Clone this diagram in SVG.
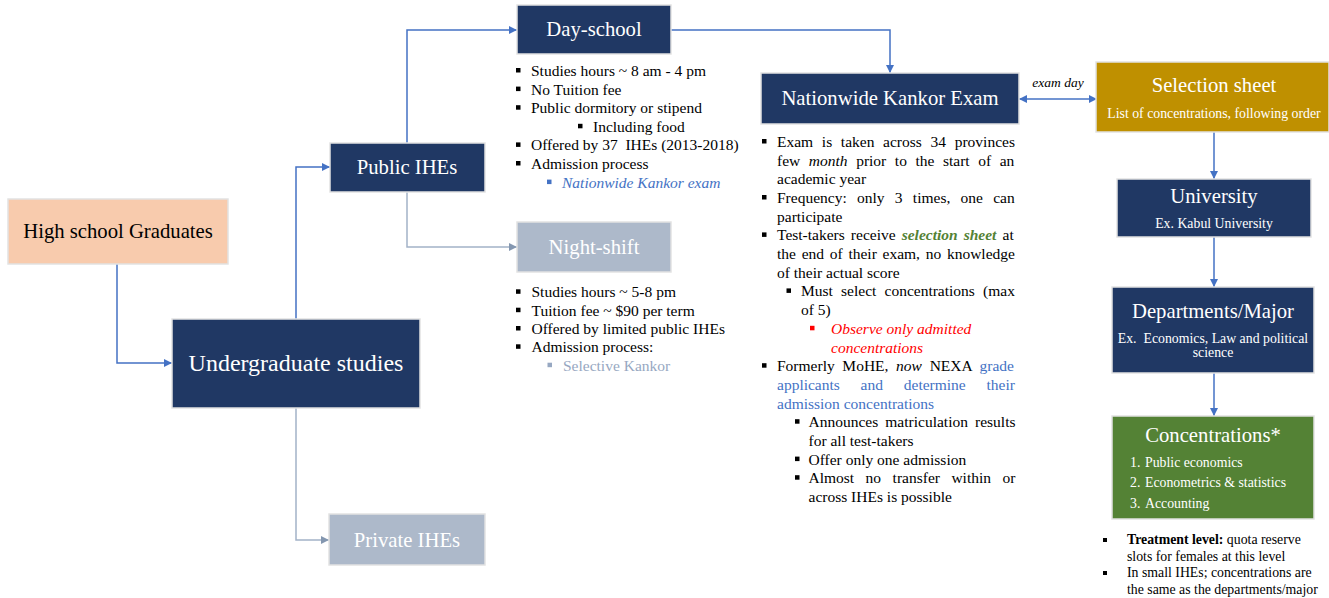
<svg xmlns="http://www.w3.org/2000/svg" width="1329" height="598" viewBox="0 0 1329 598">
<style>
text{font-family:"Liberation Serif","Times New Roman",serif;}
.box{stroke:#e2e2e2;stroke-width:1.5;}
.navy{fill:#203864;}
.grey{fill:#adb9ca;}
.t{fill:#ffffff;font-size:20.7px;text-anchor:middle;}
.sub{fill:#ffffff;font-size:13.8px;text-anchor:middle;}
.b{font-size:15.5px;fill:#000000;}
.n{font-size:13.8px;fill:#000000;}
.blt{fill:#000000;}
.c{fill:none;stroke:#4472c4;stroke-width:1.5;}
.cg{fill:none;stroke:#a3b2c8;stroke-width:1.5;}
.blue{fill:#4472c4;}
.lg{fill:#97a8c2;}
.red{fill:#ff0000;}
.it{font-style:italic;}
</style>
<defs>
<marker id="ab" viewBox="0 0 10 10" refX="10" refY="5" markerWidth="10" markerHeight="8" markerUnits="userSpaceOnUse" orient="auto-start-reverse"><path d="M0,0 L10,5 L0,10 z" fill="#4472c4"/></marker>
<marker id="ag" viewBox="0 0 10 10" refX="10" refY="5" markerWidth="10" markerHeight="8" markerUnits="userSpaceOnUse" orient="auto"><path d="M0,0 L10,5 L0,10 z" fill="#8497b0"/></marker>
</defs>
<rect width="1329" height="598" fill="#ffffff"/>

<g id="connectors">
<path class="c" d="M117,264 V363 H172" marker-end="url(#ab)"/>
<path class="c" d="M296,319 V167 H330" marker-end="url(#ab)"/>
<path class="cg" d="M296,408 V540 H329" marker-end="url(#ag)"/>
<path class="c" d="M407,143 V30 H517" marker-end="url(#ab)"/>
<path class="cg" d="M407,192 V247 H517" marker-end="url(#ag)"/>
<path class="c" d="M671,30 H890 V73" marker-end="url(#ab)"/>
<path class="c" d="M1019,99 H1097" marker-start="url(#ab)" marker-end="url(#ab)"/>
<text x="1058" y="87" class="it" font-size="13.5" text-anchor="middle" fill="#000">exam day</text>
<path class="c" d="M1214,132 V179" marker-end="url(#ab)"/>
<path class="c" d="M1214,237 V287" marker-end="url(#ab)"/>
<path class="c" d="M1214,373 V416" marker-end="url(#ab)"/>
</g>

<g id="high-school">
<rect class="box" x="8" y="199" width="220" height="65" fill="#f8cbad"/>
<text x="118" y="238" font-size="20.7" text-anchor="middle" fill="#000">High school Graduates</text>
</g>

<g id="undergraduate">
<rect class="box navy" x="172" y="319" width="248" height="89"/>
<text class="t" x="296" y="371" font-size="24" style="font-size:24px">Undergraduate studies</text>
</g>

<g id="public-ihes">
<rect class="box navy" x="330" y="143" width="155" height="49"/>
<text class="t" x="407" y="174">Public IHEs</text>
</g>

<g id="private-ihes">
<rect class="box grey" x="329" y="514" width="156" height="51"/>
<text class="t" x="407" y="547">Private IHEs</text>
</g>

<g id="day-school">
<rect class="box navy" x="517" y="5" width="154" height="49"/>
<text class="t" x="594" y="36">Day-school</text>
<rect class="blt" x="516" y="68" width="4.5" height="4.5"/>
<text class="b" x="531" y="76">Studies hours ~ 8 am - 4 pm</text>
<rect class="blt" x="516" y="86.6" width="4.5" height="4.5"/>
<text class="b" x="531" y="94.6">No Tuition fee</text>
<rect class="blt" x="516" y="105.2" width="4.5" height="4.5"/>
<text class="b" x="531" y="113.2">Public dormitory or stipend</text>
<rect class="blt" x="578" y="123.8" width="4.5" height="4.5"/>
<text class="b" x="593" y="131.8">Including food</text>
<rect class="blt" x="516" y="142.4" width="4.5" height="4.5"/>
<text class="b" x="531" y="150.4" xml:space="preserve">Offered by 37  IHEs (2013-2018)</text>
<rect class="blt" x="516" y="161" width="4.5" height="4.5"/>
<text class="b" x="531" y="169">Admission process</text>
<rect class="blue" x="547" y="179.6" width="4.5" height="4.5"/>
<text class="b it" x="562" y="187.6" style="fill:#4472c4">Nationwide Kankor exam</text>
</g>

<g id="night-shift">
<rect class="box grey" x="517" y="222" width="154" height="50"/>
<text class="t" x="594" y="254">Night-shift</text>
<rect class="blt" x="516" y="289.3" width="4.5" height="4.5"/>
<text class="b" x="531.5" y="297.3">Studies hours ~ 5-8 pm</text>
<rect class="blt" x="516" y="307.7" width="4.5" height="4.5"/>
<text class="b" x="531.5" y="315.7">Tuition fee ~ $90 per term</text>
<rect class="blt" x="516" y="326" width="4.5" height="4.5"/>
<text class="b" x="531.5" y="334">Offered by limited public IHEs</text>
<rect class="blt" x="516" y="344.3" width="4.5" height="4.5"/>
<text class="b" x="531.5" y="352.3">Admission process:</text>
<rect class="lg" x="547.5" y="362.7" width="4.5" height="4.5"/>
<text class="b" x="563" y="370.7" style="fill:#97a8c2">Selective Kankor</text>
</g>

<g id="kankor-exam">
<rect class="box navy" x="761" y="73" width="258" height="51"/>
<text class="t" x="890" y="105">Nationwide Kankor Exam</text>
<rect class="blt" x="762" y="139" width="4.5" height="4.5"/>
<text class="b" x="777" y="147" word-spacing="4.8">Exam is taken across 34 provinces</text>
<text class="b" x="777" y="165.7" word-spacing="4.7">few <tspan class="it">month</tspan> prior to the start of an</text>
<text class="b" x="777" y="184.4">academic year</text>
<rect class="blt" x="762" y="195" width="4.5" height="4.5"/>
<text class="b" x="777" y="203" word-spacing="6.4">Frequency: only 3 times, one can</text>
<text class="b" x="777" y="221.7">participate</text>
<rect class="blt" x="762" y="232.4" width="4.5" height="4.5"/>
<text class="b" x="777" y="240.4" word-spacing="2.2">Test-takers receive <tspan class="it" font-weight="bold" fill="#548235">selection sheet</tspan> at</text>
<text class="b" x="777" y="259.1" word-spacing="1.85">the end of their exam, no knowledge</text>
<text class="b" x="777" y="277.8">of their actual score</text>
<rect class="blt" x="786.5" y="288.4" width="4.5" height="4.5"/>
<text class="b" x="801" y="296.4" word-spacing="4.3">Must select concentrations (max</text>
<text class="b" x="801" y="315.1">of 5)</text>
<rect class="red" x="810" y="325.8" width="4.5" height="4.5"/>
<text class="b it" x="831" y="333.8" style="fill:#ff0000">Observe only admitted</text>
<text class="b it" x="831" y="352.5" style="fill:#ff0000">concentrations</text>
<rect class="blt" x="762" y="363.2" width="4.5" height="4.5"/>
<text class="b" x="777" y="371.2" word-spacing="3.8">Formerly MoHE, <tspan class="it">now</tspan> NEXA <tspan fill="#4472c4">grade</tspan></text>
<text class="b" x="777" y="389.8" word-spacing="16.9" style="fill:#4472c4">applicants and determine their</text>
<text class="b" x="777" y="408.5" style="fill:#4472c4">admission concentrations</text>
<rect class="blt" x="795" y="419.2" width="4.5" height="4.5"/>
<text class="b" x="808.5" y="427.2" word-spacing="3.2">Announces matriculation results</text>
<text class="b" x="808.5" y="445.9">for all test-takers</text>
<rect class="blt" x="795" y="456.6" width="4.5" height="4.5"/>
<text class="b" x="808.5" y="464.6">Offer only one admission</text>
<rect class="blt" x="795" y="475.2" width="4.5" height="4.5"/>
<text class="b" x="808.5" y="483.2" word-spacing="7.6">Almost no transfer within or</text>
<text class="b" x="808.5" y="501.9">across IHEs is possible</text>
</g>

<g id="selection-sheet">
<rect class="box" x="1096" y="62" width="233" height="70" fill="#bf9000"/>
<text class="t" x="1214" y="92">Selection sheet</text>
<text class="sub" x="1214" y="118">List of concentrations, following order</text>
</g>

<g id="university">
<rect class="box navy" x="1117" y="179" width="194" height="58"/>
<text class="t" x="1214" y="203">University</text>
<text class="sub" x="1214" y="228">Ex. Kabul University</text>
</g>

<g id="departments">
<rect class="box navy" x="1112" y="287" width="202" height="86"/>
<text class="t" x="1213" y="318">Departments/Major</text>
<text class="sub" x="1213" y="343" xml:space="preserve">Ex.  Economics, Law and political</text>
<text class="sub" x="1213" y="357">science</text>
</g>

<g id="concentrations">
<rect class="box" x="1112" y="416" width="202" height="103" fill="#548235"/>
<text class="t" x="1213" y="442">Concentrations*</text>
<text class="sub" x="1130" y="467" style="text-anchor:start">1.</text>
<text class="sub" x="1145" y="467" style="text-anchor:start">Public economics</text>
<text class="sub" x="1130" y="487" style="text-anchor:start">2.</text>
<text class="sub" x="1145" y="487" style="text-anchor:start">Econometrics &amp; statistics</text>
<text class="sub" x="1130" y="508" style="text-anchor:start">3.</text>
<text class="sub" x="1145" y="508" style="text-anchor:start">Accounting</text>
</g>

<g id="notes">
<rect class="blt" x="1103" y="538" width="4" height="4"/>
<text class="n" x="1127" y="544"><tspan font-weight="bold">Treatment level:</tspan> quota reserve</text>
<text class="n" x="1127" y="560.6">slots for females at this level</text>
<rect class="blt" x="1103" y="571" width="4" height="4"/>
<text class="n" x="1127" y="577.2">In small IHEs; concentrations are</text>
<text class="n" x="1127" y="593.8">the same as the departments/major</text>
</g>
</svg>
